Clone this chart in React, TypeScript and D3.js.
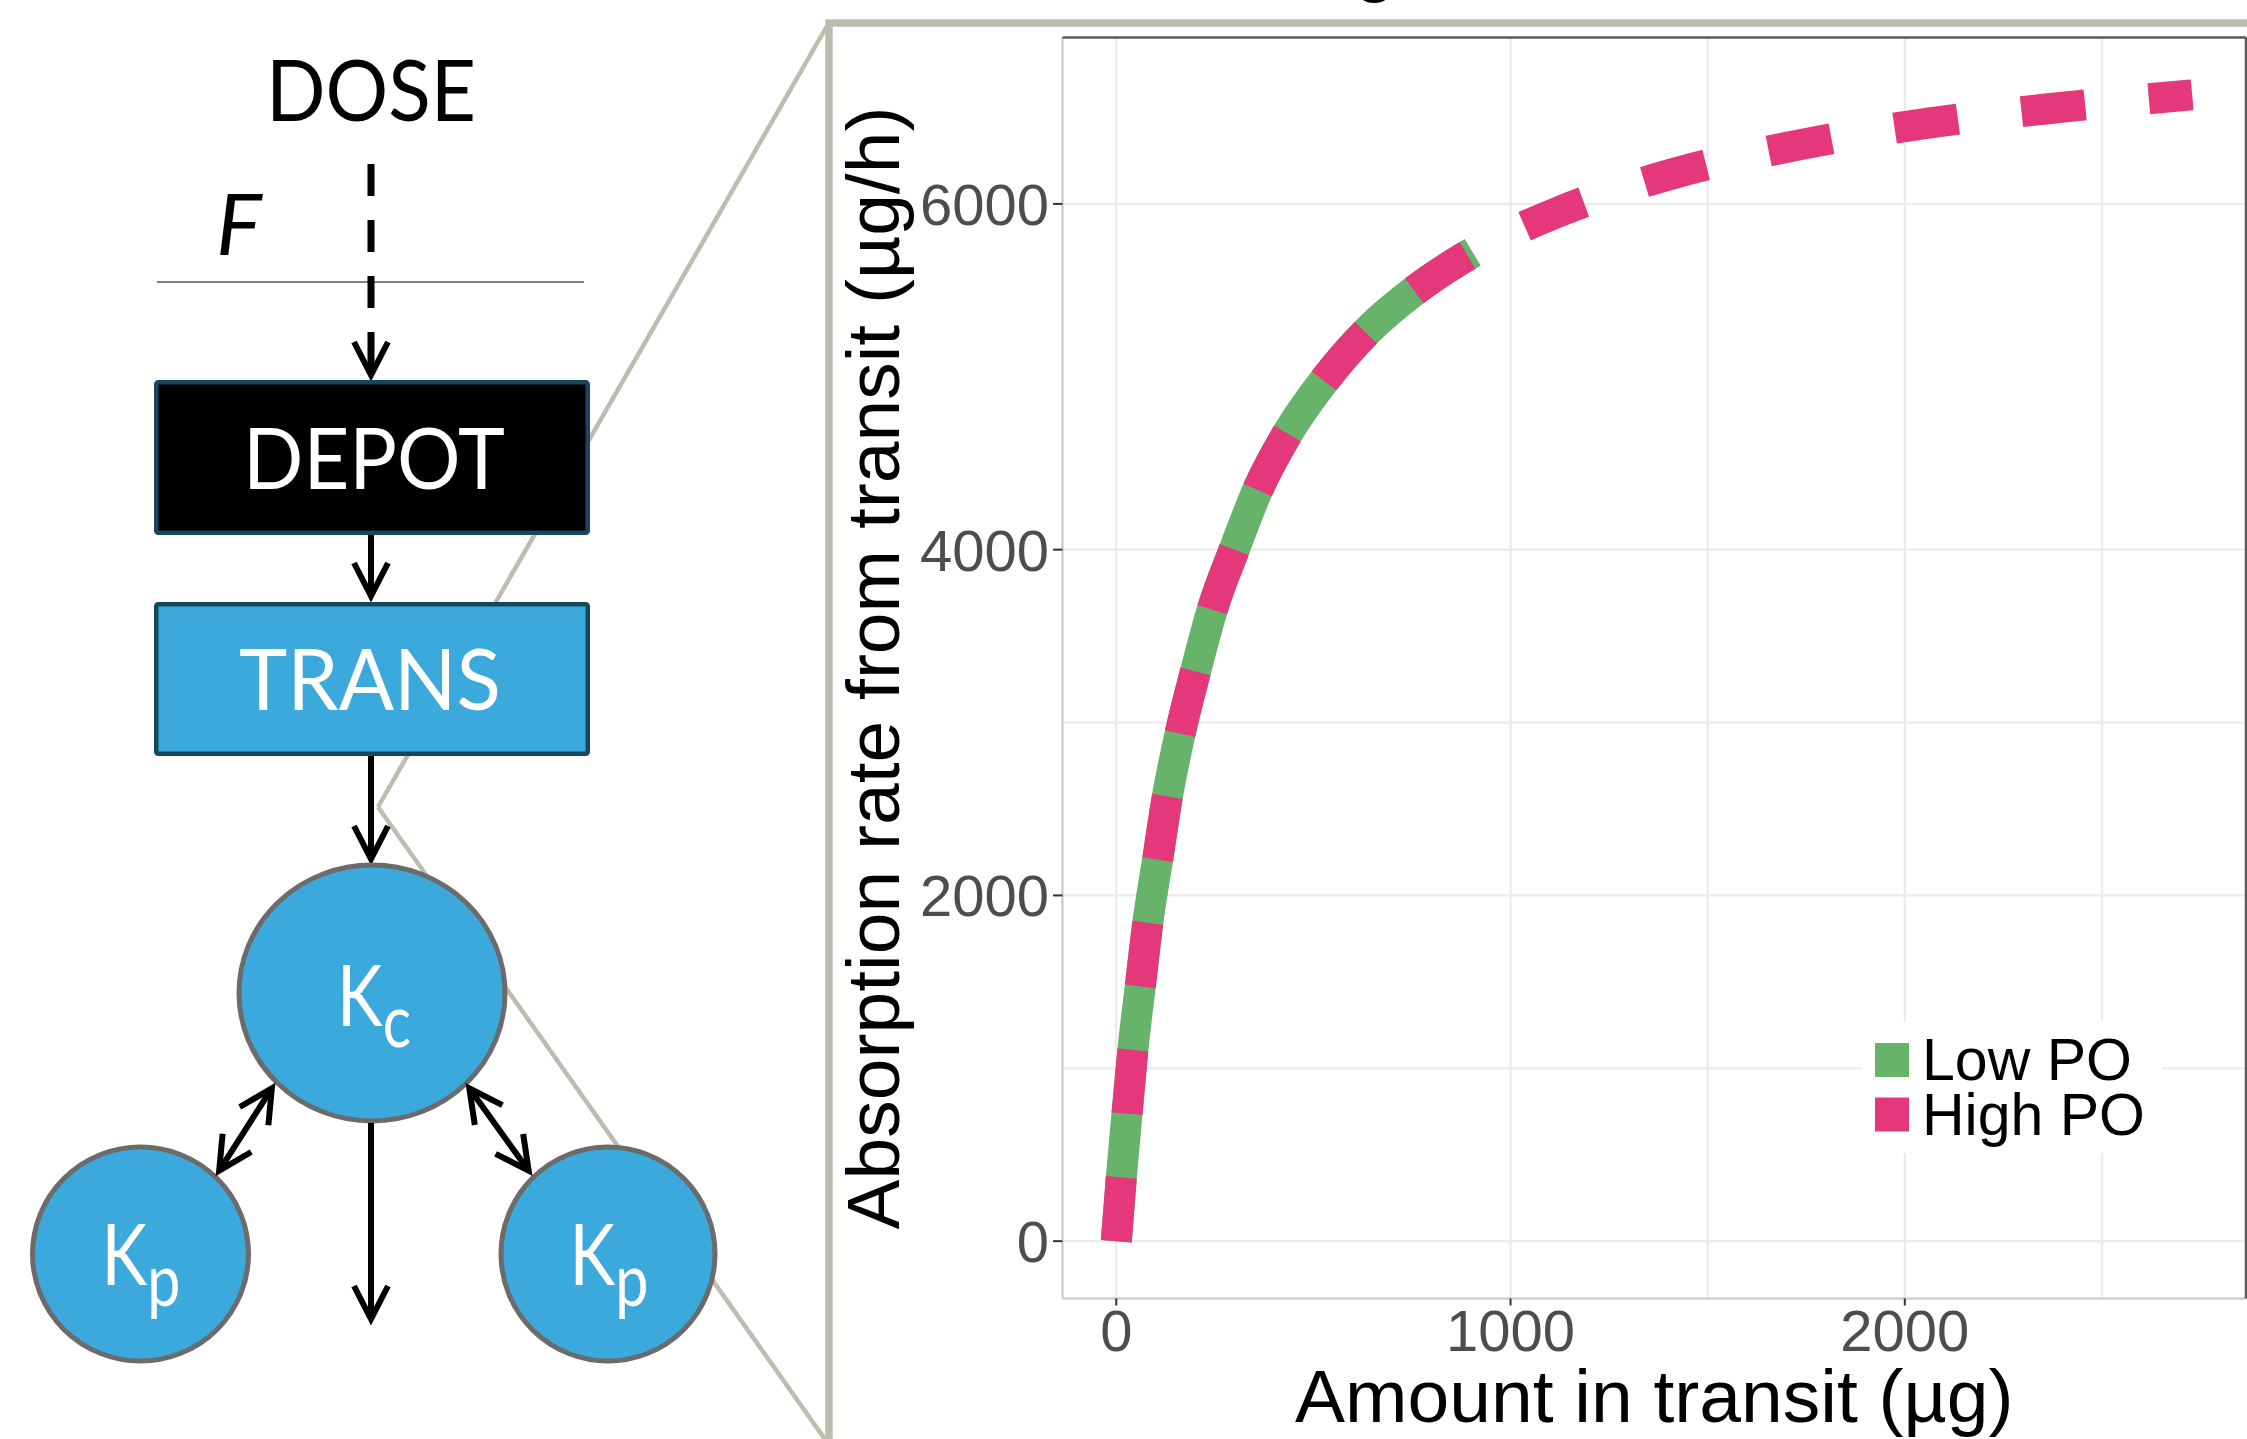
import React from 'react';
import * as d3 from 'd3';

const W = 2247;
const H = 1439;

// ---- data ----
const lowAmount = [0, 12.7, 27, 42, 61, 80, 105, 130, 162, 201, 245, 298, 360, 437, 530, 638, 760, 904];
const lowRate = [0, 367, 733, 1105, 1477, 1843, 2211, 2577, 2938, 3296, 3665, 3994, 4353, 4683, 4986, 5267, 5504, 5720];
const highAmount = [0, 12.7, 27, 42, 61, 80, 105, 130, 162, 201, 245, 298, 360, 437, 530, 638, 760, 904, 1118, 1425, 1745, 2064, 2390, 2729];
const highRate = [0, 367, 733, 1105, 1477, 1843, 2211, 2577, 2938, 3296, 3665, 3994, 4353, 4683, 4986, 5267, 5504, 5720, 5950, 6183, 6347, 6469, 6557, 6631];

const xTicks = [0, 1000, 2000];
const yTicks = [0, 2000, 4000, 6000];
const xGrid = [0, 1000, 1500, 2000, 2500];
const yGrid = [0, 1000, 2000, 3000, 4000, 6000];

const seriesNames = ['Low PO', 'High PO'];
const seriesColors = ['#68B36A', '#E5387A'];

const xTitle = 'Amount in transit (µg)';
const yTitle = 'Absorption rate from transit (µg/h)';

const BLUE = '#3BA9DC';
const TEAL = '#17475E';
const FRAME = '#BDBDAF';
const CAL = 'Lato, "Open Sans", sans-serif';
const ARIAL = '"Liberation Sans", Arial, sans-serif';

type Pt = [number, number];

function ArrowHead({ tip, dir }: { tip: Pt; dir: Pt }) {
  const L = 33, Hh = 17;
  const n = Math.hypot(dir[0], dir[1]);
  const u: Pt = [dir[0] / n, dir[1] / n];
  const p: Pt = [-u[1], u[0]];
  const t: Pt = [tip[0] - 4 * u[0], tip[1] - 4 * u[1]];
  const a: Pt = [t[0] - L * u[0] + Hh * p[0], t[1] - L * u[1] + Hh * p[1]];
  const b: Pt = [t[0] - L * u[0] - Hh * p[0], t[1] - L * u[1] - Hh * p[1]];
  return (
    <polyline
      points={`${a[0]},${a[1]} ${t[0]},${t[1]} ${b[0]},${b[1]}`}
      fill="none"
      stroke="#000"
      strokeWidth={6}
      strokeLinejoin="miter"
      strokeMiterlimit={10}
    />
  );
}

function Arrow({ from, to, double }: { from: Pt; to: Pt; double?: boolean }) {
  const d: Pt = [to[0] - from[0], to[1] - from[1]];
  const n = Math.hypot(d[0], d[1]);
  const u: Pt = [d[0] / n, d[1] / n];
  const s: Pt = double ? [from[0] + 8 * u[0], from[1] + 8 * u[1]] : from;
  const e: Pt = [to[0] - 8 * u[0], to[1] - 8 * u[1]];
  return (
    <g>
      <line x1={s[0]} y1={s[1]} x2={e[0]} y2={e[1]} stroke="#000" strokeWidth={6} />
      <ArrowHead tip={to} dir={d} />
      {double && <ArrowHead tip={from} dir={[-d[0], -d[1]]} />}
    </g>
  );
}

function KLabel({ cx, base, sub }: { cx: number; base: number; sub: string }) {
  return (
    <text
      x={cx}
      y={base}
      textAnchor="middle"
      fontFamily={CAL}
      fontSize={86}
      fill="#fff"
      transform={`translate(${cx},0) scale(0.8,1) translate(${-cx},0)`}
    >
      <tspan>K</tspan>
      <tspan dy={21} fontSize={74}>{sub}</tspan>
    </text>
  );
}

function Diagram() {
  return (
    <g>
      {/* zoom frame and connector lines */}
      <rect x={829} y={23} width={3000} height={3000} fill="none" stroke={FRAME} strokeWidth={7.5} />
      <line x1={827} y1={26} x2={378} y2={807} stroke={FRAME} strokeWidth={4.5} />
      <line x1={378} y1={807} x2={834} y2={1452} stroke={FRAME} strokeWidth={4.5} />

      {/* DOSE */}
      <text x={371} y={121} textAnchor="middle" fontFamily={CAL} fontSize={85} textLength={210} lengthAdjust="spacingAndGlyphs" fill="#000">DOSE</text>
      <text x={216} y={255} fontFamily={CAL} fontStyle="italic" fontSize={86} fill="#000">F</text>
      <line x1={157} y1={282} x2={584} y2={282} stroke="#555" strokeWidth={1.5} />
      <line x1={371} y1={164} x2={371} y2={364} stroke="#000" strokeWidth={7} strokeDasharray="32 24" />
      <line x1={371} y1={332} x2={371} y2={371} stroke="#000" strokeWidth={6} />
      <ArrowHead tip={[371, 379]} dir={[0, 1]} />

      {/* DEPOT */}
      <rect x={156.25} y={382.25} width={431.5} height={150.5} rx={2} fill="#000" stroke={TEAL} strokeWidth={4.5} />
      <text x={374} y={489} textAnchor="middle" fontFamily={CAL} fontSize={85} textLength={262} lengthAdjust="spacingAndGlyphs" fill="#fff">DEPOT</text>
      <Arrow from={[371, 535]} to={[371, 600]} />

      {/* TRANS */}
      <rect x={156.25} y={604.25} width={431.5} height={149.5} rx={2} fill={BLUE} stroke={TEAL} strokeWidth={4.5} />
      <text x={370} y={710} textAnchor="middle" fontFamily={CAL} fontSize={85} textLength={262} lengthAdjust="spacingAndGlyphs" fill="#fff">TRANS</text>
      <Arrow from={[371, 756]} to={[371, 863]} />

      {/* compartments */}
      <ellipse cx={372} cy={993} rx={133} ry={128} fill={BLUE} stroke="#6B6B6B" strokeWidth={5} />
      <ellipse cx={140.5} cy={1254} rx={108} ry={107} fill={BLUE} stroke="#6B6B6B" strokeWidth={5} />
      <ellipse cx={608} cy={1254} rx={107} ry={107} fill={BLUE} stroke="#6B6B6B" strokeWidth={5} />

      <KLabel cx={374} base={1026} sub="c" />
      <KLabel cx={141} base={1285} sub="p" />
      <KLabel cx={609} base={1285} sub="p" />

      <Arrow from={[371, 1123]} to={[371, 1323]} />
      <Arrow from={[217, 1174]} to={[274, 1085]} double />
      <Arrow from={[531, 1174]} to={[467, 1085]} double />
    </g>
  );
}

function Plot() {
  const xMax = d3.max(highAmount)!;
  const yMax = d3.max(highRate)!;
  const xPad = 0.05 * xMax;
  const yPad = 0.05 * yMax;
  const x = d3.scaleLinear().domain([0 - xPad, xMax + xPad]).range([1062.5, 2246]);
  const y = d3.scaleLinear().domain([0 - yPad, yMax + yPad]).range([1298.5, 37.5]);
  const [x0, x1] = x.range();
  const [y0, y1] = y.range();

  const mkLine = d3
    .line<[number, number]>()
    .x((d) => x(d[0]))
    .y((d) => y(d[1]))
    .curve(d3.curveMonotoneX);

  const lowPath = mkLine(lowAmount.map((a, i) => [a, lowRate[i]] as [number, number]));
  const highPath = mkLine(highAmount.map((a, i) => [a, highRate[i]] as [number, number]));

  return (
    <g>
      <rect x={x0} y={y1} width={x1 - x0} height={y0 - y1} fill="#fff" />
      {yGrid.map((v) => (
        <line key={'yg' + v} x1={x0} x2={x1} y1={y(v)} y2={y(v)} stroke="#EBEBEB" strokeWidth={2.2} />
      ))}
      {xGrid.map((v) => (
        <line key={'xg' + v} x1={x(v)} x2={x(v)} y1={y0} y2={y1} stroke="#EBEBEB" strokeWidth={2.2} />
      ))}

      {/* legend box (covers grid) */}
      <rect x={1861} y={1021} width={301} height={132} fill="#fff" />
      {seriesNames.map((s, i) => (
        <g key={s}>
          <rect x={1875} y={1043 + i * 54.5} width={34} height={34} fill={seriesColors[i]} />
          <text x={1922} y={1080 + i * 55} fontFamily={ARIAL} fontSize={59} fill="#000">{s}</text>
        </g>
      ))}

      <path d={lowPath!} fill="none" stroke={seriesColors[0]} strokeWidth={31} strokeLinecap="butt" strokeLinejoin="round" />
      <path d={highPath!} fill="none" stroke={seriesColors[1]} strokeWidth={31} strokeLinecap="butt" strokeLinejoin="round" strokeDasharray="64 64" />

      {/* panel border */}
      <line x1={x0} x2={x0} y1={y1} y2={y0} stroke="#CFCFCF" strokeWidth={2.5} />
      <line x1={x0} x2={x1} y1={y0} y2={y0} stroke="#CFCFCF" strokeWidth={2.5} />
      <line x1={x0} x2={x1} y1={y1} y2={y1} stroke="#5A5A5A" strokeWidth={2.5} />
      <line x1={x1} x2={x1} y1={y1} y2={y0} stroke="#5A5A5A" strokeWidth={2.5} />

      {/* y axis */}
      {yTicks.map((v) => (
        <g key={'yt' + v}>
          <line x1={1053} x2={x0} y1={y(v)} y2={y(v)} stroke="#333" strokeWidth={2} />
          <text x={1049} y={y(v)} dy="0.36em" textAnchor="end" fontFamily={ARIAL} fontSize={58} fill="#4D4D4D">{v}</text>
        </g>
      ))}
      {/* x axis */}
      {xTicks.map((v) => (
        <g key={'xt' + v}>
          <line x1={x(v)} x2={x(v)} y1={y0} y2={y0 + 7} stroke="#333" strokeWidth={2} />
          <text x={x(v)} y={1351} textAnchor="middle" fontFamily={ARIAL} fontSize={58} fill="#4D4D4D">{v}</text>
        </g>
      ))}

      <text x={(x0 + x1) / 2} y={1422} textAnchor="middle" fontFamily={ARIAL} fontSize={75} fill="#000">{xTitle}</text>
      <text transform={`translate(899,${(y0 + y1) / 2}) rotate(-90)`} textAnchor="middle" fontFamily={ARIAL} fontSize={75} fill="#000">{yTitle}</text>

      {/* cut-off title descender at the top edge */}
      <text x={1354} y={-12} fontFamily={ARIAL} fontSize={75} fill="#000">g</text>
    </g>
  );
}

export default function App() {
  return (
    <svg
      width={W}
      height={H}
      viewBox={`0 0 ${W} ${H}`}
      style={{ position: 'absolute', left: 0, top: 0, display: 'block', background: '#fff' }}
    >
      <rect x={0} y={0} width={W} height={H} fill="#fff" />
      <Diagram />
      <Plot />
    </svg>
  );
}
